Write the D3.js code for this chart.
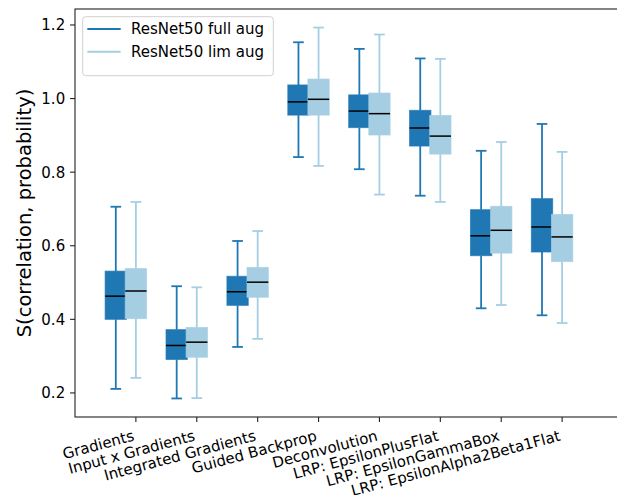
<!DOCTYPE html>
<html>
<head>
<meta charset="utf-8">
<script src="https://cdn.jsdelivr.net/npm/d3@7.9.0/dist/d3.min.js"></script>
<style>
  html, body { margin: 0; padding: 0; background: #fff; }
  svg { display: block; font-family: "DejaVu Sans", sans-serif; }
</style>
</head>
<body>
<svg id="chart" width="617" height="495"></svg>
<script>
const categories = [
  'Gradients', 'Input x Gradients', 'Integrated Gradients', 'Guided Backprop',
  'Deconvolution', 'LRP: EpsilonPlusFlat', 'LRP: EpsilonGammaBox', 'LRP: EpsilonAlpha2Beta1Flat'
];
const seriesNames = ['ResNet50 full aug', 'ResNet50 lim aug'];
const seriesColors = ['#1f77b4', '#a6cee3'];

// [whisker low, q1, median, q3, whisker high]
const fullAug = [
  [0.211, 0.400, 0.463, 0.531, 0.706],
  [0.185, 0.291, 0.329, 0.372, 0.490],
  [0.325, 0.438, 0.475, 0.517, 0.613],
  [0.841, 0.955, 0.991, 1.037, 1.153],
  [0.808, 0.921, 0.966, 1.010, 1.135],
  [0.736, 0.871, 0.920, 0.968, 1.109],
  [0.430, 0.573, 0.627, 0.698, 0.858],
  [0.411, 0.583, 0.651, 0.728, 0.931]
];
const limAug = [
  [0.241, 0.402, 0.477, 0.538, 0.719],
  [0.186, 0.297, 0.338, 0.378, 0.487],
  [0.347, 0.460, 0.501, 0.541, 0.640],
  [0.817, 0.955, 0.998, 1.053, 1.193],
  [0.739, 0.901, 0.959, 1.015, 1.174],
  [0.719, 0.849, 0.898, 0.954, 1.108],
  [0.439, 0.580, 0.642, 0.707, 0.882],
  [0.390, 0.557, 0.624, 0.685, 0.855]
];
const yTicks = [0.2, 0.4, 0.6, 0.8, 1.0, 1.2];

const svg = d3.select('#chart');
const mLeft = 75, mRight = 623, mTop = 9, mBottom = 417;

// matplotlib style 5% margins
const lo = d3.min([...fullAug, ...limAug], d => d[0]);
const hi = d3.max([...fullAug, ...limAug], d => d[4]);
const pad = (hi - lo) * 0.05;

const x = d3.scaleLinear().domain([0, categories.length + 1]).range([mLeft, mRight]);
const y = d3.scaleLinear().domain([lo - pad, hi + pad]).range([mBottom, mTop]);

const boxW = 0.35;
const offsets = [-0.33, 0];

const plot = svg.append('g');

[fullAug, limAug].forEach((series, s) => {
  const color = seriesColors[s];
  series.forEach((d, i) => {
    const cx = x(i + 1 + offsets[s]);
    const half = (x(boxW) - x(0)) / 2;
    const g = plot.append('g');
    // whiskers
    g.append('line').attr('x1', cx).attr('x2', cx).attr('y1', y(d[0])).attr('y2', y(d[1]))
      .attr('stroke', color).attr('stroke-width', 1.8);
    g.append('line').attr('x1', cx).attr('x2', cx).attr('y1', y(d[3])).attr('y2', y(d[4]))
      .attr('stroke', color).attr('stroke-width', 1.8);
    // caps
    [d[0], d[4]].forEach(v => {
      g.append('line').attr('x1', cx - half / 2).attr('x2', cx + half / 2)
        .attr('y1', y(v)).attr('y2', y(v))
        .attr('stroke', color).attr('stroke-width', 1.8);
    });
    // box
    g.append('rect').attr('x', cx - half).attr('width', half * 2)
      .attr('y', y(d[3])).attr('height', y(d[1]) - y(d[3]))
      .attr('fill', color).attr('stroke', color).attr('stroke-opacity', 0.7).attr('stroke-width', 1);
    // median
    g.append('line').attr('x1', cx - half).attr('x2', cx + half)
      .attr('y1', y(d[2])).attr('y2', y(d[2]))
      .attr('stroke', '#000').attr('stroke-width', 1.5);
  });
});

// spines
const axisColor = '#222';
svg.append('rect').attr('x', mLeft).attr('y', mTop).attr('width', mRight - mLeft).attr('height', mBottom - mTop)
  .attr('fill', 'none').attr('stroke', axisColor).attr('stroke-width', 1.1);

// y axis
yTicks.forEach(t => {
  svg.append('line').attr('x1', mLeft - 4.9).attr('x2', mLeft).attr('y1', y(t)).attr('y2', y(t))
    .attr('stroke', axisColor).attr('stroke-width', 1.1);
  svg.append('text').attr('x', mLeft - 9.8).attr('y', y(t)).attr('dy', '0.36em')
    .attr('text-anchor', 'end').attr('font-size', 15).attr('fill', '#000')
    .text(d3.format('.1f')(t));
});

// x axis
const fs = 15;
const rot = 15;
const hgt = 1.164 * fs;
categories.forEach((c, i) => {
  const tx = x(i + 1);
  svg.append('line').attr('x1', tx).attr('x2', tx).attr('y1', mBottom).attr('y2', mBottom + 4.9)
    .attr('stroke', axisColor).attr('stroke-width', 1.1);
  const ty = mBottom + 9.8 + hgt * Math.cos(rot * Math.PI / 180);
  svg.append('text')
    .attr('transform', `translate(${tx},${ty}) rotate(${-rot})`)
    .attr('y', -0.236 * fs)
    .attr('text-anchor', 'end').attr('font-size', fs).attr('fill', '#000')
    .text(c);
});

// y label
svg.append('text')
  .attr('transform', `translate(31,${(mTop + mBottom) / 2}) rotate(-90)`)
  .attr('text-anchor', 'middle').attr('font-size', 19.5).attr('fill', '#000')
  .text('S(correlation, probability)');

// legend
const legend = svg.append('g');
legend.append('rect').attr('x', 82.7).attr('y', 16.7).attr('width', 190.6).attr('height', 59)
  .attr('rx', 3).attr('fill', '#fff').attr('fill-opacity', 0.8)
  .attr('stroke', '#d0d0d0').attr('stroke-width', 1);
seriesNames.forEach((name, i) => {
  const ly = 29 + i * 22.7;
  legend.append('line').attr('x1', 87.3).attr('x2', 120.7).attr('y1', ly).attr('y2', ly)
    .attr('stroke', seriesColors[i]).attr('stroke-width', 2);
  legend.append('text').attr('x', 131).attr('y', ly).attr('dy', '0.36em')
    .attr('font-size', 15).attr('fill', '#000').text(name);
});
</script>
</body>
</html>
